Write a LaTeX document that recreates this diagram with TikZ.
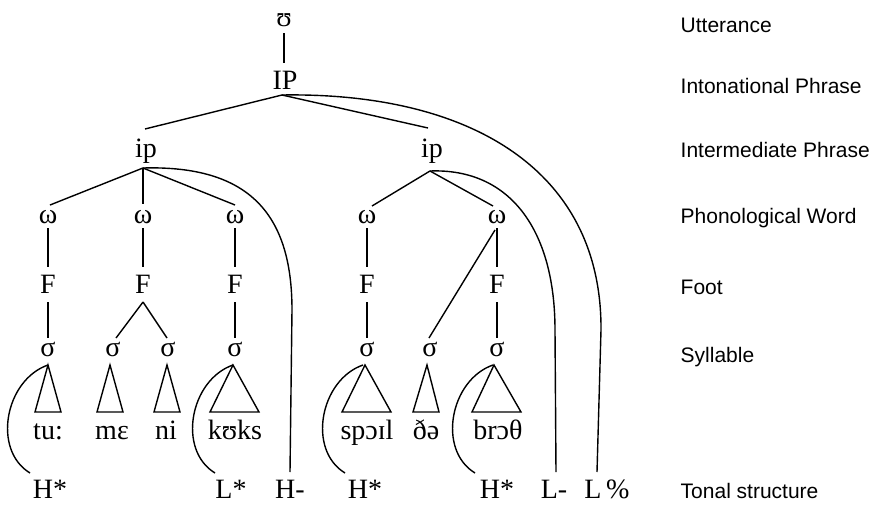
\documentclass[tikz,border=0pt]{standalone}
\usepackage{fontspec}
\setmainfont{Liberation Serif}
\newfontfamily\labelfont{Liberation Sans}
\begin{document}
\begin{tikzpicture}[x=1pt,y=-1pt,line width=1.4pt,
  tr/.style={font=\fontsize{28}{30}\selectfont,inner sep=0pt,anchor=base},
  lab/.style={font=\labelfont\fontsize{21}{24}\selectfont,inner sep=0pt,anchor=base west}]
\useasboundingbox (0,0) rectangle (871,506);
% tree labels
\node[tr] (U) at (284,26) {ʊ};
\node[tr] (IP) at (285,89) {IP};
\node[tr] (ipA) at (146,157) {ip};
\node[tr] (ipB) at (432,157) {ip};
\foreach \n/\x in {1/48,2/143,3/235,4/367,5/497}{
  \node[tr] (w\n) at (\x,223) {ω};
  \node[tr] (F\n) at (\x,293) {F};
}
\foreach \n/\x in {1/48,2/113,3/168,4/235,5/367,6/430,7/497}{
  \node[tr] (s\n) at (\x,356) {σ};
}
\node[tr] (t1) at (48,439) {tu:};
\node[tr] (t2) at (112,439) {mɛ};
\node[tr] (t3) at (166,439) {ni};
\node[tr] (t4) at (235,439) {kʊks};
\node[tr] (t5) at (367,439) {spɔɪl};
\node[tr] (t6) at (426,439) {ðə};
\node[tr] (t7) at (498,439) {brɔθ};
\node[tr] (h1) at (50,498) {H*};
\node[tr] (h2) at (231,498) {L*};
\node[tr] (h3) at (290,498) {H-};
\node[tr] (h4) at (365,498) {H*};
\node[tr] (h5) at (497,498) {H*};
\node[tr] (h6) at (554,498) {L-};
\node[tr] (h7) at (607,498) {L\,\%};
% level labels
\node[lab] (l1) at (680,32) {Utterance};
\node[lab] (l2) at (680,93) {Intonational Phrase};
\node[lab] (l3) at (680,157) {Intermediate Phrase};
\node[lab] (l4) at (680,223) {Phonological Word};
\node[lab] (l5) at (680,294) {Foot};
\node[lab] (l6) at (680,362) {Syllable};
\node[lab] (l7) at (680,498) {Tonal structure};
% attachment points
\coordinate (Ub) at (284,33);
\coordinate (IPt) at (284,63);
\coordinate (IPb) at (282,95);
\coordinate (ipAt) at (145,129);
\coordinate (ipBt) at (428,128);
\coordinate (ipAb) at (143,168);
\coordinate (ipBb) at (430,171);
\coordinate (w1t) at (50,205);
\coordinate (w2t) at (143,204);
\coordinate (w3t) at (235,205);
\coordinate (w4t) at (372,206);
\coordinate (w5t) at (493,206);
\foreach \n/\x in {1/48,2/143,3/235,4/367,5/497}{
  \coordinate (w\n b) at (\x,228);
  \coordinate (F\n t) at (\x,267);
  \coordinate (F\n b) at (\x,302);
}
\coordinate (w5c) at (495,230);
\foreach \n/\x in {1/48,4/235,5/367,7/497}{
  \coordinate (s\n t) at (\x,338);
}
\coordinate (s2t) at (116,338);
\coordinate (s3t) at (167,338);
\coordinate (s6t) at (429,338);
\coordinate (H3t) at (290,472);
\coordinate (L6t) at (556,472);
\coordinate (L7t) at (597,472);
% vertical links
\draw (Ub) -- (IPt);
\draw (IPb) -- (ipAt);
\draw (IPb) -- (ipBt);
\foreach \n in {1,2,3}{\draw (ipAb) -- (w\n t);}
\foreach \n in {4,5}{\draw (ipBb) -- (w\n t);}
\foreach \n in {1,2,3,4,5}{\draw (w\n b) -- (F\n t);}
\draw (F1b) -- (s1t);
\draw (F2b) -- (s2t);
\draw (F2b) -- (s3t);
\draw (F3b) -- (s4t);
\draw (F4b) -- (s5t);
\draw (F5b) -- (s7t);
\draw (w5c) -- (s6t);
% triangles
\foreach \n/\ax/\bl/\br in {1/48/35/61,2/110/97/123,3/167/154/180,4/233/210/259,5/365/342/391,6/427/413/439,7/494/472/521}{
  \coordinate (a\n) at (\ax,365);
  \draw (a\n) -- (\bl,412) -- (\br,412) -- cycle;
}
% tone associations
\foreach \n/\ax in {1/48,4/233,5/363,7/493}{
  \draw (\ax,365) .. controls (\ax-43,380) and (\ax-56,450) .. (\ax-18,473);
}
\draw (ipAb) .. controls (250,165) and (292,215) .. (292,310) -- (H3t);
\draw (ipBb) .. controls (510,168) and (555,230) .. (555,330) -- (L6t);
\draw (IPb) .. controls (470,92) and (602,170) .. (601,330) -- (L7t);
\end{tikzpicture}
\end{document}
